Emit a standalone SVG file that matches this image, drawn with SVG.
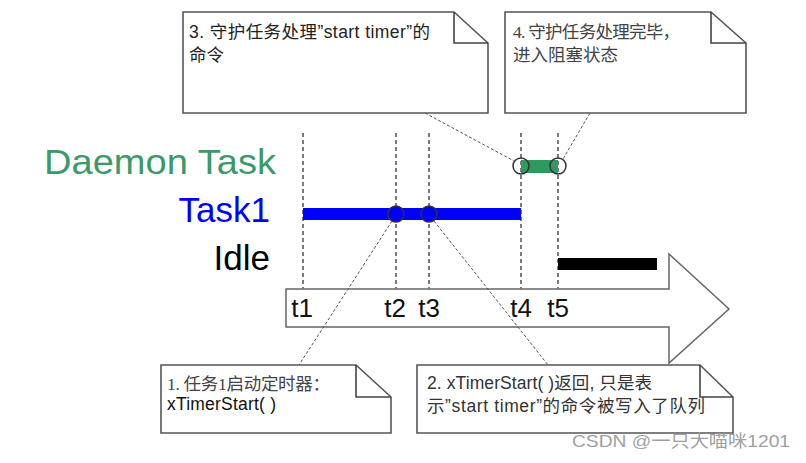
<svg xmlns="http://www.w3.org/2000/svg" width="806" height="463" viewBox="0 0 806 463">
<style>
.note{fill:#fff;stroke:#555;stroke-width:1.6}
.fold{fill:none;stroke:#444;stroke-width:1.6}
.nt{font-family:"Liberation Sans","Noto Sans CJK SC",sans-serif;font-size:17.5px}
.ser{font-family:"Liberation Serif","Noto Sans CJK SC",serif}
.vline{stroke:#7a7a7a;stroke-width:2;stroke-dasharray:4 3}
.conn{stroke:#555;stroke-width:1;stroke-dasharray:3 2;fill:none}
.lbl{font-family:"Liberation Sans",Arial,sans-serif;font-size:35px;text-anchor:end}
.tl{font-family:"Liberation Sans",Arial,sans-serif;font-size:26px;text-anchor:middle;fill:#111}
.mark{stroke:#333;stroke-width:1.5}
</style>
<rect width="806" height="463" fill="#fff"/>

<g id="timeline">
  <polygon points="286,289 669,289 669,254 729,309 669,363 669,327 286,327" fill="#fff" stroke="#666" stroke-width="1.5"/>
  <text class="tl" x="302" y="317">t1</text>
  <text class="tl" x="395" y="317">t2</text>
  <text class="tl" x="429" y="317">t3</text>
  <text class="tl" x="521" y="317">t4</text>
  <text class="tl" x="558" y="317">t5</text>
</g>

<g id="ticks">
  <line class="vline" x1="303" y1="133" x2="303" y2="289"/>
  <line class="vline" x1="396" y1="133" x2="396" y2="289"/>
  <line class="vline" x1="429" y1="133" x2="429" y2="289"/>
  <line class="vline" x1="521" y1="133" x2="521" y2="289"/>
  <line class="vline" x1="558" y1="133" x2="558" y2="289"/>
</g>

<g id="daemon">
  <text class="lbl" x="276" y="174" fill="#3a9a6a" textLength="232" lengthAdjust="spacingAndGlyphs">Daemon Task</text>
  <rect x="521" y="160" width="37" height="13" fill="#2f9a60"/>
  <circle class="mark" cx="521" cy="166" r="8" fill="none"/>
  <circle class="mark" cx="558" cy="166" r="8" fill="none"/>
</g>

<g id="task1">
  <text class="lbl" x="270" y="222" fill="#0000ff">Task1</text>
  <rect x="303" y="208" width="218" height="12" fill="#0000ff"/>
  <circle class="mark" cx="396" cy="214" r="8" fill="#0000ff"/>
  <circle class="mark" cx="429" cy="214" r="8" fill="#0000ff"/>
</g>

<g id="idle">
  <text class="lbl" x="270" y="270" fill="#000">Idle</text>
  <rect x="558" y="258" width="99" height="12" fill="#000"/>
</g>

<g id="connectors">
  <line class="conn" x1="425" y1="113" x2="514" y2="161"/>
  <line class="conn" x1="590" y1="113" x2="563" y2="159"/>
  <line class="conn" x1="392" y1="221" x2="299" y2="365"/>
  <line class="conn" x1="434" y1="221" x2="548" y2="365"/>
</g>

<g id="note3">
  <path class="note" d="M183 12 H454 L488 43 V113 H183 Z"/>
  <path class="fold" d="M454 12 V43 H488"/>
  <text class="nt" x="189" y="38" fill="#222" textLength="241" lengthAdjust="spacing">3. 守护任务处理”start timer”的</text>
  <text class="nt" x="189" y="61" fill="#222">命令</text>
</g>

<g id="note4">
  <path class="note" d="M505 12 H711 L746 43 V113 H505 Z"/>
  <path class="fold" d="M711 12 V43 H746"/>
  <text class="nt ser" x="513" y="38" fill="#444" textLength="167" lengthAdjust="spacing">4. 守护任务处理完毕，</text>
  <text class="nt ser" x="513" y="61" fill="#444" textLength="105" lengthAdjust="spacing">进入阻塞状态</text>
</g>

<g id="note1">
  <path class="note" d="M161 365 H356 L391 397 V433 H161 Z"/>
  <path class="fold" d="M356 365 V397 H391"/>
  <text class="nt ser" x="167" y="390" fill="#444" textLength="163" lengthAdjust="spacing">1. 任务1启动定时器：</text>
  <text class="nt" x="167" y="410" fill="#111" textLength="109" lengthAdjust="spacing">xTimerStart( )</text>
</g>

<g id="note2">
  <path class="note" d="M417 365 H700 L733 397 V433 H417 Z"/>
  <path class="fold" d="M700 365 V397 H733"/>
  <text class="nt" x="427" y="389" fill="#333" textLength="225" lengthAdjust="spacing">2. xTimerStart( )返回, 只是表</text>
  <text class="nt" x="427" y="412" fill="#333" textLength="278" lengthAdjust="spacing">示”start timer”的命令被写入了队列</text>
</g>

<text x="572" y="447" font-family="Liberation Sans,'Noto Sans CJK SC',sans-serif" font-size="17" fill="#a0a0a0" textLength="218" lengthAdjust="spacingAndGlyphs">CSDN @一只大喵咪1201</text>
</svg>
